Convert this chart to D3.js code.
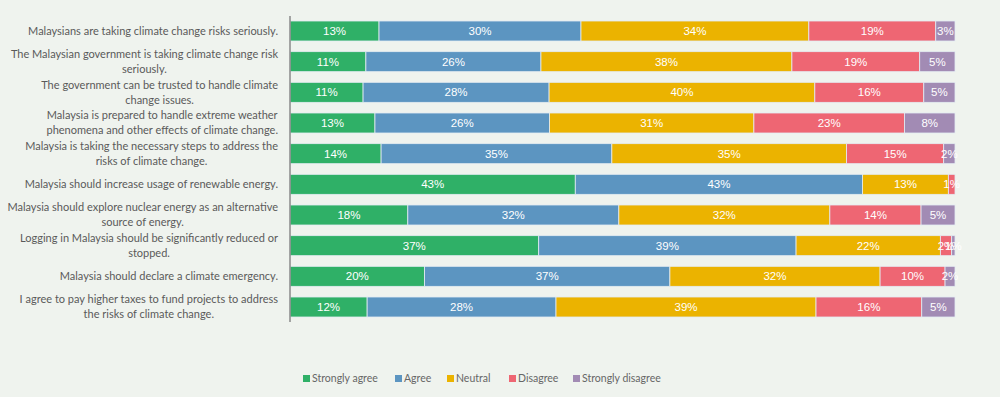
<!DOCTYPE html>
<html><head><meta charset="utf-8">
<script src="https://cdn.jsdelivr.net/npm/d3@7"></script>
<style>
html,body{margin:0;padding:0;background:#eff3ee;}
svg{display:block;}
</style></head>
<body>
<svg id="chart" width="1000" height="397"></svg>
<script>
const categories = [
  "Malaysians are taking climate change risks seriously.",
  "The Malaysian government is taking climate change risk\nseriously.",
  "The government can be trusted to handle climate\nchange issues.",
  "Malaysia is prepared to handle extreme weather\nphenomena and other effects of climate change.",
  "Malaysia is taking the necessary steps to address the\nrisks of climate change.",
  "Malaysia should increase usage of renewable energy.",
  "Malaysia should explore nuclear energy as an alternative\nsource of energy.",
  "Logging in Malaysia should be significantly reduced or\nstopped.",
  "Malaysia should declare a climate emergency.",
  "I agree to pay higher taxes to fund projects to address\nthe risks of climate change."
];
const seriesNames = ["Strongly agree", "Agree", "Neutral", "Disagree", "Strongly disagree"];
const stronglyAgree    = [13.4, 11.4, 11.0, 12.8, 13.7, 42.9, 17.7, 37.4, 20.3, 11.6];
const agree            = [30.4, 26.3, 28.0, 26.3, 34.7, 43.2, 31.7, 38.7, 37.0, 28.4];
const neutral          = [34.3, 37.7, 40.0, 30.8, 35.3, 12.9, 31.7, 21.7, 31.7, 39.1];
const disagree         = [19.1, 19.2, 16.4, 22.7, 14.6, 1.0, 13.7, 1.7, 9.8, 15.9];
const stronglyDisagree = [2.9, 5.3, 4.7, 7.6, 1.7, 0, 5.1, 0.5, 1.5, 5.0];
const colors = ["#2fb067", "#5c95c1", "#ebb300", "#ee6673", "#a28bb4"];

const seriesValues = [stronglyAgree, agree, neutral, disagree, stronglyDisagree];
const rows = categories.map((c, i) => {
  const r = {cat: c};
  seriesNames.forEach((s, j) => r[s] = seriesValues[j][i]);
  return r;
});

const svg = d3.select("#chart");
svg.append("rect").attr("width", 1000).attr("height", 397).attr("fill", "#eff3ee");

const x = d3.scaleLinear().domain([0, 1]).range([290, 955]);
const y = d3.scaleBand().domain(categories).range([21, 317]).paddingInner(0.348).paddingOuter(0);
const color = d3.scaleOrdinal().domain(seriesNames).range(colors);

const stack = d3.stack().keys(seriesNames).offset(d3.stackOffsetExpand);
const stacked = stack(rows);

const g = svg.append("g");
const layers = g.selectAll("g.layer").data(stacked).join("g")
  .attr("class", "layer").attr("fill", d => color(d.key));

layers.selectAll("rect").data(d => d.map(v => ({v, key: d.key}))).join("rect")
  .attr("x", d => x(d.v[0]))
  .attr("y", d => y(d.v.data.cat))
  .attr("width", d => Math.max(0, x(d.v[1]) - x(d.v[0])))
  .attr("height", y.bandwidth())
  .attr("stroke", "#e4ecf2")
  .attr("stroke-width", 0.8);

const labels = g.append("g");
stacked.forEach(layer => {
  layer.forEach(v => {
    const val = v.data[layer.key];
    if (val <= 0) return;
    labels.append("text")
      .attr("x", (x(v[0]) + x(v[1])) / 2)
      .attr("y", y(v.data.cat) + y.bandwidth() / 2)
      .attr("dy", "0.36em")
      .attr("text-anchor", "middle")
      .attr("fill", "#ffffff")
      .attr("font-family", "Liberation Sans, Arial, sans-serif")
      .attr("font-size", 11.5)
      .text(Math.round(val) + "%");
  });
});

// vertical category axis line
svg.append("line").attr("x1", 290).attr("x2", 290).attr("y1", 16).attr("y2", 322)
  .attr("stroke", "#8a8a8a").attr("stroke-width", 1.5);

// category labels
const catG = svg.append("g");
categories.forEach(c => {
  const lines = c.split("\n");
  const cy = y(c) + y.bandwidth() / 2;
  const lh = 15;
  const t = catG.append("text")
    .attr("font-family", "Lato, sans-serif")
    .attr("font-size", 11)
    .attr("fill", "#5a5a5a");
  lines.forEach((ln, k) => {
    t.append("tspan").attr("x", 0).attr("y", cy + (k - (lines.length - 1) / 2) * lh).attr("dy", "0.35em").text(ln);
  });
  const tsp = t.selectAll("tspan").nodes();
  const widths = tsp.map(n => n.getComputedTextLength());
  const maxW = d3.max(widths);
  tsp.forEach((n, k) => {
    d3.select(n).attr("x", 278 - maxW + (maxW - widths[k]) / 2);
  });
});

// legend
const legendX = [303, 395, 447, 509, 573];
const lg = svg.append("g");
seriesNames.forEach((s, i) => {
  lg.append("rect").attr("x", legendX[i]).attr("y", 375).attr("width", 7).attr("height", 7).attr("fill", colors[i]);
  lg.append("text").attr("x", legendX[i] + 9).attr("y", 378.5).attr("dy", "0.35em")
    .attr("font-family", "Lato, sans-serif").attr("font-size", 10.5).attr("fill", "#666")
    .text(s);
});
</script>
</body></html>
